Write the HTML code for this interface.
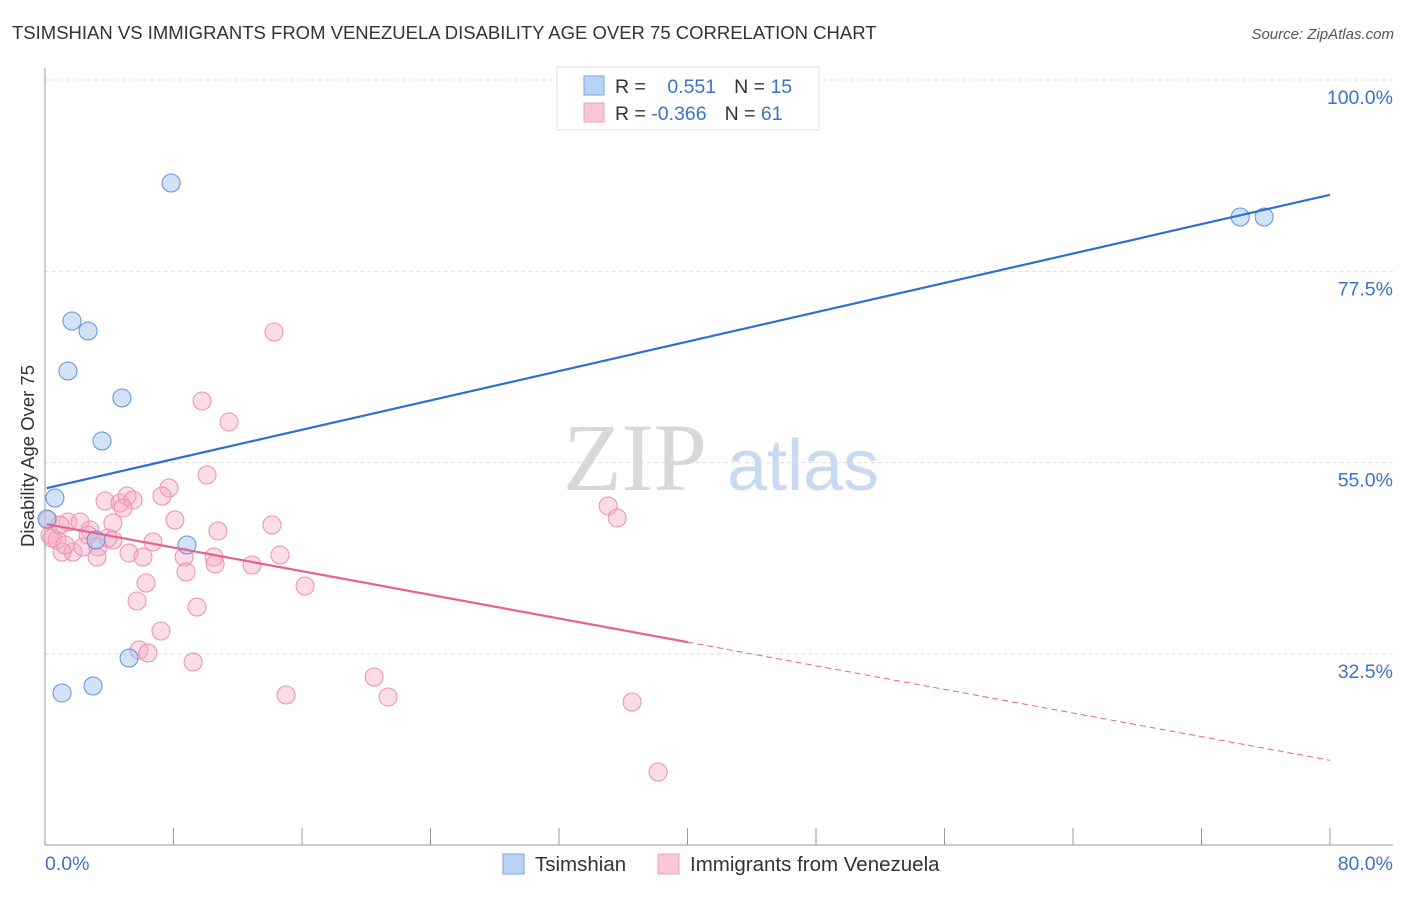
<!DOCTYPE html>
<html><head><meta charset="utf-8"><style>
body{margin:0;background:#fff;font-family:"Liberation Sans",sans-serif}
</style></head><body>
<svg id="chart" width="1406" height="892" xmlns="http://www.w3.org/2000/svg">
<text x="12" y="39" font-size="18.5" fill="#333">TSIMSHIAN VS IMMIGRANTS FROM VENEZUELA DISABILITY AGE OVER 75 CORRELATION CHART</text>
<text x="1394" y="39" font-size="15" fill="#555" font-style="italic" text-anchor="end">Source: ZipAtlas.com</text>
<g>
<text x="635" y="490" font-size="96" fill="#d8d8d8" font-family="Liberation Serif,serif" text-anchor="middle">ZIP</text>
<text x="803" y="490" font-size="72" fill="#c8daf0" text-anchor="middle">atlas</text>
</g>
<g id="grid"></g>
<line x1="45" y1="68" x2="45" y2="845" stroke="#999"/>
<line x1="45" y1="845" x2="1393" y2="845" stroke="#999"/>
<g id="xticks"></g>
<text x="45" y="870" font-size="19.5" fill="#3a73c8">0.0%</text>
<text x="1393" y="870" font-size="19.5" fill="#3a73c8" text-anchor="end">80.0%</text>
<text transform="translate(34,456) rotate(-90)" font-size="18.5" fill="#333" text-anchor="middle">Disability Age Over 75</text>
<g id="pts"></g>
<g id="lines"></g>
<g>
<rect x="557" y="67" width="262" height="63" fill="#fff" stroke="#ddd"/>
<rect x="584" y="76" width="20" height="19" fill="#b8d3f4" stroke="#7aa6e0"/>
<rect x="584" y="103" width="20" height="19" fill="#f9c8d6" stroke="#eca0b8"/>
<text x="615" y="93" font-size="19.5" fill="#333">R = <tspan fill="#3a73c8" dx="16">0.551</tspan><tspan dx="18" fill="#333">N = </tspan><tspan fill="#3a73c8">15</tspan></text>
<text x="615" y="120" font-size="19.5" fill="#333">R = <tspan fill="#3a73c8">-0.366</tspan><tspan dx="18" fill="#333">N = </tspan><tspan fill="#3a73c8">61</tspan></text>
</g>
<g>
<rect x="503" y="854" width="21" height="20" fill="#b8d3f4" stroke="#7aa6e0"/>
<text x="535" y="871" font-size="20.5" fill="#333">Tsimshian</text>
<rect x="658" y="854" width="21" height="20" fill="#f9c8d6" stroke="#eca0b8"/>
<text x="690" y="871" font-size="20.5" fill="#333">Immigrants from Venezuela</text>
</g>
</svg>
<script>
const yTicks=[100,77.5,55,32.5];
const yTickLabels=["100.0%","77.5%","55.0%","32.5%"];
const xTickVals=[0,8,16,24,32,40,48,56,64,72,80];
const blueX=[0.62,0.12,7.85,1.68,2.68,1.43,4.79,3.55,8.84,5.23,1.06,2.99,3.18,74.41,75.90];
const blueY=[50.85,48.38,87.89,71.66,70.48,65.78,62.61,57.55,45.32,32.03,27.92,28.74,45.91,83.89,83.89];
const pinkX=[10.09,3.74,4.67,5.11,5.48,4.86,7.72,7.29,8.09,10.77,14.13,4.23,1.43,2.18,2.80,0.31,0.75,1.06,1.74,2.37,3.30,4.23,3.24,5.23,6.10,6.72,8.66,8.78,10.52,10.59,12.89,14.63,16.19,6.29,5.73,9.46,7.22,5.85,6.41,9.22,15.01,14.26,9.78,11.46,35.06,35.62,20.49,21.36,36.55,38.17,0.19,0.44,1.25,2.68,3.92,0.93];
const pinkY=[53.55,50.49,50.26,51.08,50.61,49.67,52.02,51.08,48.26,46.97,47.67,47.91,48.02,48.02,47.08,46.50,45.91,44.50,44.50,45.08,45.08,45.91,43.91,44.38,43.91,45.67,43.91,42.14,43.91,43.09,42.97,44.14,40.50,40.85,38.73,38.03,35.21,32.97,32.62,31.56,27.68,70.37,62.25,59.78,49.91,48.50,29.80,27.45,26.86,18.63,48.26,46.14,45.32,46.50,46.14,47.67];
const blueTrend=[52.0,86.5];
const pinkTrend=[47.8,20.0];
const pinkSolidEnd=40;
const NS="http://www.w3.org/2000/svg";
function X(v){return 45+v*(1285/80);}
function Y(v){return 80+(100-v)*8.504;}
function mk(t,a,p){const e=document.createElementNS(NS,t);for(const k in a)e.setAttribute(k,a[k]);p.appendChild(e);return e;}
const grid=document.getElementById('grid');
yTicks.forEach((v,i)=>{
 const l=mk('line',{x1:45,x2:1393,y1:Y(v),y2:Y(v),stroke:'#ddd','stroke-dasharray':'4,3'},grid);
 
 
 const t=mk('text',{x:1393,y:Y(v)+24,'font-size':19.5,fill:'#3a73c8','text-anchor':'end'},grid);
 t.textContent=yTickLabels[i];
 
 
});
const xt=document.getElementById('xticks');
xTickVals.forEach(v=>{
 const l=mk('line',{x1:X(v),x2:X(v),y1:828,y2:845,stroke:'#999'},xt);
 
 
});
const pts=document.getElementById('pts');
pinkX.forEach((x,i)=>{
 const c=mk('circle',{cx:X(x),cy:Y(pinkY[i]),r:9,fill:'rgba(244,168,194,0.4)',stroke:'#eb8fae','stroke-width':1},pts);
 
 
});
blueX.forEach((x,i)=>{
 const c=mk('circle',{cx:X(x),cy:Y(blueY[i]),r:9,fill:'rgba(165,198,240,0.5)',stroke:'#5f92da','stroke-width':1},pts);
 
 
});
const lg=document.getElementById('lines');
function py(x){return pinkTrend[0]+(pinkTrend[1]-pinkTrend[0])*x/80;}
const bl=mk('line',{x1:X(0.1),y1:Y(blueTrend[0]),x2:X(80),y2:Y(blueTrend[1]),stroke:'#2f6fd0','stroke-width':2.2},lg);


const pl=mk('line',{x1:X(0.1),y1:Y(py(0.1)),x2:X(pinkSolidEnd),y2:Y(py(pinkSolidEnd)),stroke:'#e8628e','stroke-width':2.2},lg);


const pd=mk('line',{x1:X(pinkSolidEnd),y1:Y(py(pinkSolidEnd)),x2:X(80),y2:Y(py(80)),stroke:'#e8628e','stroke-width':1,'stroke-dasharray':'6,4'},lg);


</script>
</body></html>
